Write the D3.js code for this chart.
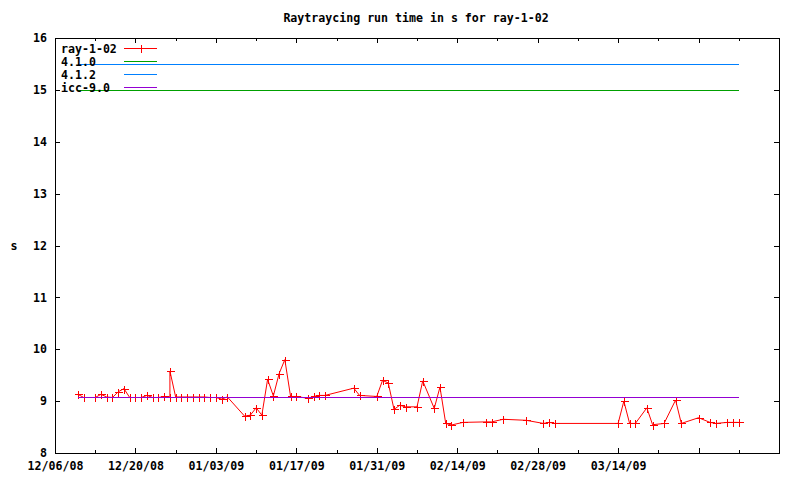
<!DOCTYPE html>
<html><head><meta charset="utf-8">
<script src="https://cdn.jsdelivr.net/npm/d3@7"></script>
<style>
body{margin:0;background:#fff;}
svg text{font-family:"DejaVu Sans Mono",monospace;font-weight:bold;font-size:11.6px;fill:#000;}
</style></head><body>
<svg id="c" width="800" height="480"></svg>
<script>
const dates = ["2008-12-10","2008-12-11","2008-12-13","2008-12-14","2008-12-15","2008-12-16","2008-12-17","2008-12-18","2008-12-19","2008-12-20","2008-12-21","2008-12-22","2008-12-23","2008-12-24","2008-12-25","2008-12-26","2008-12-26","2008-12-27","2008-12-28","2008-12-29","2008-12-30","2008-12-31","2009-01-01","2009-01-02","2009-01-03","2009-01-04","2009-01-05","2009-01-08","2009-01-09","2009-01-10","2009-01-11","2009-01-12","2009-01-13","2009-01-14","2009-01-15","2009-01-16","2009-01-17","2009-01-19","2009-01-20","2009-01-21","2009-01-22","2009-01-27","2009-01-28","2009-01-31","2009-02-01","2009-02-02","2009-02-03","2009-02-04","2009-02-05","2009-02-07","2009-02-08","2009-02-10","2009-02-11","2009-02-12","2009-02-13","2009-02-15","2009-02-19","2009-02-20","2009-02-22","2009-02-26","2009-03-01","2009-03-02","2009-03-03","2009-03-14","2009-03-15","2009-03-16","2009-03-17","2009-03-19","2009-03-20","2009-03-22","2009-03-24","2009-03-25","2009-03-28","2009-03-30","2009-03-31","2009-04-02","2009-04-03","2009-04-04"];
const ray = [9.13,9.07,9.07,9.13,9.08,9.07,9.18,9.24,9.07,9.07,9.07,9.11,9.07,9.07,9.09,9.08,9.58,9.08,9.08,9.08,9.08,9.08,9.08,9.07,9.07,9.04,9.08,8.71,8.73,8.87,8.73,9.42,9.10,9.53,9.80,9.09,9.09,9.055,9.09,9.11,9.11,9.25,9.11,9.09,9.40,9.35,8.84,8.92,8.89,8.89,9.39,8.86,9.27,8.57,8.54,8.59,8.60,8.60,8.65,8.63,8.57,8.59,8.57,8.57,9.00,8.57,8.57,8.87,8.545,8.57,9.02,8.57,8.68,8.59,8.57,8.59,8.59,8.59];
const refNames = ["4.1.0","4.1.2","icc-9.0"];
const refValues = [15.0, 15.5, 9.07];
const refColors = ["#00a000","#0080ff","#9400d3"];
const majorTicks = ["2008-12-06","2008-12-20","2009-01-03","2009-01-17","2009-01-31","2009-02-14","2009-02-28","2009-03-14","2009-03-28","2009-04-11"];
const majorLabels = ["12/06/08","12/20/08","01/03/09","01/17/09","01/31/09","02/14/09","02/28/09","03/14/09","",""];
const minorTicks = ["2008-12-13","2008-12-27","2009-01-10","2009-01-24","2009-02-07","2009-02-21","2009-03-07","2009-03-21","2009-04-04"];
const yTicks = [8,9,10,11,12,13,14,15,16];
const xDomain = ["2008-12-06","2009-04-11"];

const svg = d3.select("#c");
const L=55,R=779,T=38,B=453;
const parse = s => new Date(s+"T00:00:00Z");
const x = d3.scaleUtc().domain(xDomain.map(parse)).range([L,R]);
const y = d3.scaleLinear().domain([8,16]).range([B,T]);

svg.append("text").attr("x",416).attr("y",22).attr("text-anchor","middle").text("Raytraycing run time in s for ray-1-02");
svg.append("text").attr("x",14).attr("y",250).attr("text-anchor","middle").text("s");

function styleAxis(g){g.select(".domain").remove();g.selectAll("line").attr("stroke","#000").attr("shape-rendering","crispEdges");}
const mj = majorTicks.map(parse), mn = minorTicks.map(parse);
svg.append("g").attr("transform",`translate(0,${B})`).call(d3.axisBottom(x).tickValues(mj).tickSize(-5).tickPadding(9).tickFormat((d,i)=>majorLabels[i])).call(styleAxis);
svg.append("g").attr("transform",`translate(0,${B})`).call(d3.axisBottom(x).tickValues(mn).tickSize(-3).tickFormat("")).call(styleAxis);
svg.append("g").attr("transform",`translate(0,${T})`).call(d3.axisTop(x).tickValues(mj).tickSize(-5).tickFormat("")).call(styleAxis);
svg.append("g").attr("transform",`translate(0,${T})`).call(d3.axisTop(x).tickValues(mn).tickSize(-3).tickFormat("")).call(styleAxis);
svg.append("g").attr("transform",`translate(${L},0)`).call(d3.axisLeft(y).tickValues(yTicks).tickSize(-5).tickPadding(8).tickFormat(d3.format("d"))).call(styleAxis);
svg.append("g").attr("transform",`translate(${R},0)`).call(d3.axisRight(y).tickValues(yTicks).tickSize(-5).tickFormat("")).call(styleAxis);
svg.selectAll("g text").attr("font-size",null).attr("font-family",null);

svg.append("rect").attr("x",L+0.5).attr("y",T+0.5).attr("width",R-L).attr("height",B-T).attr("fill","none").attr("stroke","#000").attr("shape-rendering","crispEdges");

const pts = dates.map((d,i)=>[x(parse(d)), y(ray[i])]);
svg.append("path").attr("d",d3.line()(pts)).attr("fill","none").attr("stroke","#ff0000").attr("stroke-width",1);
function plus(g,cx,cy){g.append("path").attr("d",`M${Math.round(cx)-3.5},${Math.round(cy)+0.5}h8M${Math.round(cx)+0.5},${Math.round(cy)-3.5}v8`).attr("stroke","#ff0000").attr("stroke-width",1).attr("fill","none").attr("shape-rendering","crispEdges");}
const pg = svg.append("g");
pts.forEach(p=>plus(pg,p[0],p[1]));

const x0 = x(parse(dates[0])), x1 = x(parse(dates[dates.length-1]));
refValues.forEach((v,i)=>{
  svg.append("line").attr("x1",x0).attr("x2",x1).attr("y1",Math.round(y(v))+0.5).attr("y2",Math.round(y(v))+0.5).attr("stroke",refColors[i]).attr("stroke-width",1).attr("shape-rendering","crispEdges");
});

// legend
const legNames = ["ray-1-02"].concat(refNames), legColors = ["#ff0000"].concat(refColors);
legNames.forEach((n,i)=>{
  const ly = 48 + i*12.9;
  svg.append("text").attr("x",61).attr("y",Math.round(ly)+5).text(n);
  svg.append("line").attr("x1",124).attr("x2",157).attr("y1",Math.round(ly)+0.5).attr("y2",Math.round(ly)+0.5).attr("stroke",legColors[i]).attr("shape-rendering","crispEdges");
  if(i===0) plus(svg,141,ly);
});
</script></body></html>
